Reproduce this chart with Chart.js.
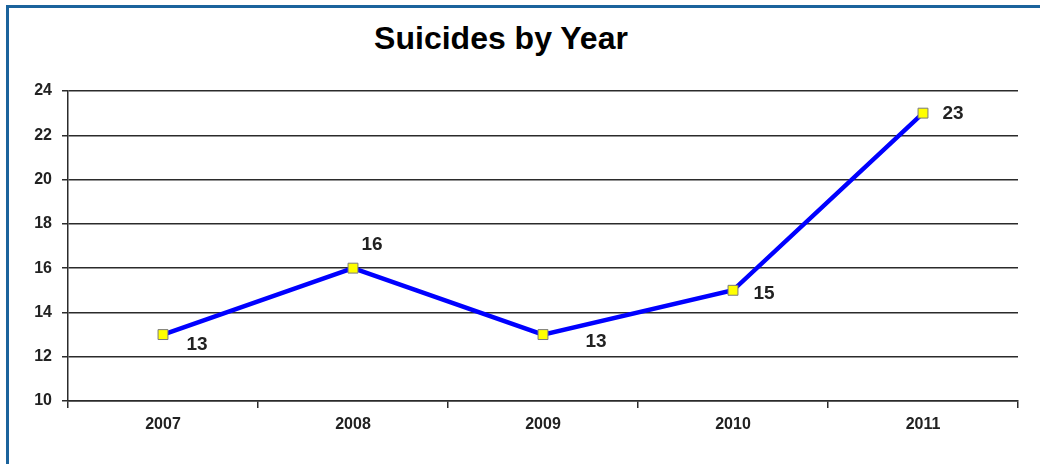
<!DOCTYPE html>
<html>
<head>
<meta charset="utf-8">
<script src="https://cdn.jsdelivr.net/npm/chart.js@4"></script>
<style>
  body { margin: 0; background: #fff; }
  #wrap { position: relative; width: 1040px; height: 464px; overflow: hidden; background: #fff; }
  #frame { position: absolute; left: 6px; top: 5px; width: 1100px; height: 500px;
           border-left: 3px solid #1b639c; border-top: 3px solid #1b639c; }
  #title { position: absolute; left: 0; top: 20px; width: 1002px; text-align: center;
           font: bold 32px "Liberation Sans", Arial, sans-serif; color: #000; line-height: 36px; }
  #chart { position: absolute; left: 0; top: 0; }
</style>
</head>
<body>
<div id="wrap">
  <div id="frame"></div>
  <div id="title">Suicides by Year</div>
  <canvas id="chart" width="1040" height="464"></canvas>
</div>
<script>
// data
const years = ["2007", "2008", "2009", "2010", "2011"];
const suicides = [13, 16, 13, 15, 23];
const yMin = 10;
const yMax = 24;
const yStep = 2;

// where each value label sits relative to its point (px)
const labelOffsets = [[34, 10], [19, -23], [53, 7], [31, 3], [30, 1]];

const tickFont = { family: "'Liberation Sans', Arial, sans-serif", size: 16, weight: "bold" };
const gridColor = "#2b2b2b";

const valueLabels = {
    id: "valueLabels",
    afterDatasetsDraw(chart) {
        const ctx = chart.ctx;
        const meta = chart.getDatasetMeta(0);
        ctx.save();
        ctx.font = "bold 19px 'Liberation Sans', Arial, sans-serif";
        ctx.fillStyle = "#222";
        ctx.textAlign = "center";
        ctx.textBaseline = "middle";
        meta.data.forEach((pt, i) => {
            const off = labelOffsets[i] || [20, 0];
            ctx.fillText(String(suicides[i]), pt.x + off[0], pt.y + off[1]);
        });
        ctx.restore();
    }
};

const ctx = document.getElementById("chart").getContext("2d");
new Chart(ctx, {
    type: "line",
    data: {
        labels: years,
        datasets: [{
            data: suicides,
            borderColor: "#0000ff",
            borderWidth: 4.5,
            tension: 0,
            pointStyle: "rect",
            pointRadius: 7,
            pointBackgroundColor: "#ffff00",
            pointBorderColor: "#7a7a7a",
            pointBorderWidth: 1
        }]
    },
    options: {
        responsive: false,
        animation: false,
        layout: { padding: { left: 8, right: 22, top: 91, bottom: 30 } },
        plugins: {
            legend: { display: false },
            title: { display: false },
            tooltip: { enabled: false }
        },
        scales: {
            x: {
                offset: true,
                grid: {
                    offset: true,
                    drawOnChartArea: false,
                    drawTicks: true,
                    tickLength: 7,
                    color: gridColor,
                    lineWidth: 1.5
                },
                border: { color: gridColor, width: 1.5 },
                ticks: { color: "#222", font: tickFont, padding: 7 },
                afterFit(scale) { scale.height = 33; }
            },
            y: {
                min: yMin,
                max: yMax,
                ticks: { stepSize: yStep, color: "#222", font: tickFont, padding: 10 },
                grid: {
                    color: gridColor,
                    lineWidth: 1.5,
                    drawTicks: true,
                    tickLength: 6
                },
                border: { color: gridColor, width: 1.5 },
                afterFit(scale) { scale.width = 60; }
            }
        }
    },
    plugins: [valueLabels]
});
</script>
</body>
</html>
